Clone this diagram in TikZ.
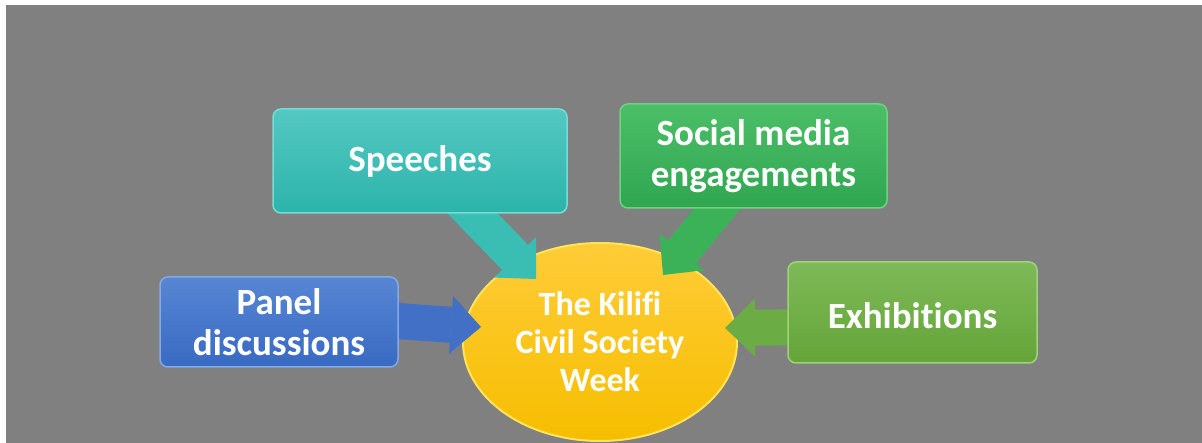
\documentclass[tikz,border=0pt]{standalone}
\usepackage{fontspec}
\setmainfont[Ligatures=NoCommon]{Carlito}
\usetikzlibrary{shapes.geometric,arrows.meta,calc}
\definecolor{bggray}{RGB}{128,128,128}
\definecolor{spT}{RGB}{84,200,194}
\definecolor{spB}{RGB}{44,180,170}
\definecolor{spL}{RGB}{120,220,214}
\definecolor{spA}{RGB}{58,190,180}
\definecolor{soT}{RGB}{76,190,104}
\definecolor{soB}{RGB}{48,166,80}
\definecolor{soL}{RGB}{110,210,130}
\definecolor{soA}{RGB}{60,178,88}
\definecolor{paT}{RGB}{88,134,212}
\definecolor{paB}{RGB}{56,106,194}
\definecolor{paL}{RGB}{130,170,230}
\definecolor{paA}{RGB}{66,112,198}
\definecolor{exT}{RGB}{126,186,88}
\definecolor{exB}{RGB}{100,164,56}
\definecolor{exL}{RGB}{160,210,120}
\definecolor{exA}{RGB}{108,172,68}
\definecolor{elT}{RGB}{255,204,56}
\definecolor{elB}{RGB}{246,190,0}
\definecolor{elL}{RGB}{255,228,90}
\pgfdeclarelayer{back}
\pgfdeclarelayer{mid}
\pgfsetlayers{back,mid,main}
\begin{document}
\begin{tikzpicture}[x=1pt,y=-1pt,
  txt/.style={text=white, font=\fontsize{37}{41}\selectfont\bfseries, align=center, inner sep=0pt},
  box/.style={txt, rectangle, rounded corners=8pt, line width=1.5pt},
  conn/.style={line width=36pt, -{Triangle[length=30pt,width=58pt,line width=0pt]}}]
\useasboundingbox (0,0) rectangle (1202,443);
\begin{pgfonlayer}{back}
\fill[white] (0,0) rectangle (1202,443);
\fill[bggray] (6,5) rectangle (1202,443);
\node[ellipse, txt, font=\fontsize{34}{38}\selectfont\bfseries,
  minimum width=274pt, minimum height=198pt, line width=2pt,
  top color=elT, bottom color=elB, draw=elL] (kil) at (600,342)
  {The Kilifi\\Civil Society\\Week};
\end{pgfonlayer}
\node[box, minimum width=294pt, minimum height=104pt, text height=26pt, text depth=4pt, top color=spT, bottom color=spB, draw=spL] (spe) at (420,161) {Speeches};
\node[box, minimum width=267pt, minimum height=104pt, top color=soT, bottom color=soB, draw=soL] (soc) at (753.5,156) {Social media\\engagements};
\node[box, minimum width=238pt, minimum height=90pt, top color=paT, bottom color=paB, draw=paL] (pan) at (279,322) {Panel\\discussions};
\node[box, minimum width=249pt, minimum height=101pt, text height=33pt, text depth=0pt, top color=exT, bottom color=exB, draw=exL] (exh) at (912.5,312.5) {Exhibitions};
\coordinate (t1) at (536,279);
\coordinate (t2) at (663,275);
\coordinate (t3) at (481,327);
\coordinate (t4) at (725,328);
\begin{pgfonlayer}{mid}
\draw[conn, spA] ($(spe.south)+(21,-33)$) -- (t1);
\draw[conn, soA] ($(soc.south)+(-8.5,-34)$) -- (t2);
\draw[conn, paA] ($(pan.east)+(-43,-4)$) -- (t3);
\draw[conn, exA] ($(exh.west)+(42,14.5)$) -- (t4);
\end{pgfonlayer}
\end{tikzpicture}
\end{document}
